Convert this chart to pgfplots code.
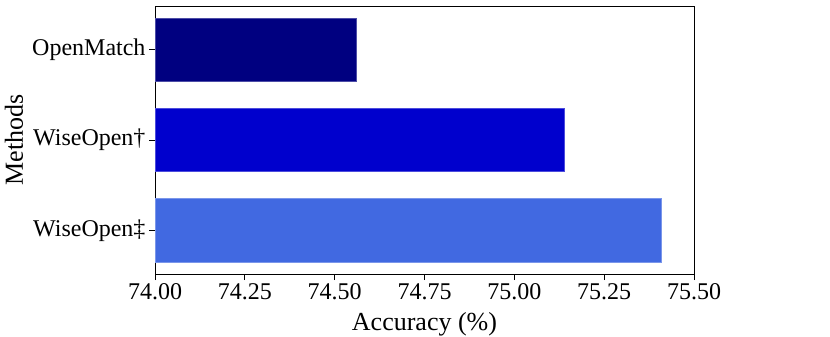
\documentclass[border=0pt]{standalone}
\usepackage{fontspec}
\setmainfont{Liberation Serif}
\usepackage{pgfplots}
\pgfplotsset{compat=1.18}

\definecolor{cNavy}{HTML}{000080}
\definecolor{cMedium}{HTML}{0000CD}
\definecolor{cRoyal}{HTML}{4169E1}

\begin{document}
\begin{tikzpicture}
\begin{axis}[
  at={(155bp,63bp)}, anchor=south west,
  width=539bp, height=268bp, scale only axis,
  xbar, bar width=0.7, bar shift=0pt,
  xmin=74, xmax=75.5,
  ymin=-0.485, ymax=2.485, y dir=reverse,
  ytick={0,1,2},
  yticklabels={OpenMatch, WiseOpen†, WiseOpen‡},
  xtick={74,74.25,74.5,74.75,75,75.25,75.5},
  xticklabel style={/pgf/number format/.cd, fixed, fixed zerofill, precision=2,
    assume math mode=true},
  ticklabel style={font=\fontsize{24bp}{28bp}\selectfont},
  tick align=outside, xtick pos=left, ytick pos=left,
  major tick length=6bp,
  tick style={black, line width=0.9bp},
  axis line style={line width=0.9bp},
  xlabel={Accuracy (\%)}, ylabel={Methods},
  label style={font=\fontsize{26bp}{30bp}\selectfont},
  xlabel style={at={(axis description cs:0.5,-0.209)}, anchor=base},
  ylabel style={at={(axis description cs:-0.245,0.5)}, anchor=base, rotate=0},
]
\addplot[fill=cNavy, draw=cNavy!70!white, line width=0.6bp] coordinates {(74.56,0)};
\addplot[fill=cMedium, draw=cMedium!70!white, line width=0.6bp] coordinates {(75.14,1)};
\addplot[fill=cRoyal, draw=cRoyal!70!white, line width=0.6bp] coordinates {(75.41,2)};
\end{axis}
\pgfresetboundingbox
\path (0,0) rectangle (830bp,337bp);
\end{tikzpicture}
\end{document}
